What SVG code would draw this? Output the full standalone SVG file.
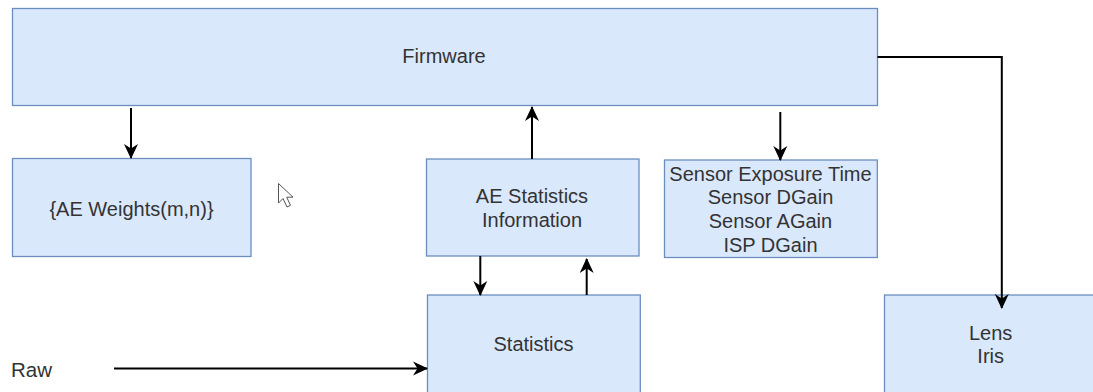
<svg xmlns="http://www.w3.org/2000/svg" width="1093" height="392" viewBox="0 0 1093 392">
<style>
.box{fill:#dae8fc;stroke:#6c8ebf;stroke-width:1.3}
.t{font-family:"Liberation Sans",Arial,sans-serif;font-size:20px;fill:#333;text-anchor:middle}
.c{fill:none;stroke:#000;stroke-width:2}
</style>
<defs>
<marker id="ah" markerUnits="userSpaceOnUse" markerWidth="15" markerHeight="15" viewBox="0 0 15 15" refX="14" refY="7.5" orient="auto">
<path d="M0,0.5 L15,7.5 L0,14.5 L4.5,7.5 Z" fill="#000"/>
</marker>
</defs>
<rect width="1093" height="392" fill="#fff"/>
<g id="firmware">
<rect class="box" x="12.5" y="8.5" width="865" height="97"/>
<text class="t" x="444" y="63.3">Firmware</text>
</g>
<g id="ae-weights">
<rect class="box" x="12.5" y="158.5" width="238.5" height="98"/>
<text class="t" x="131.5" y="216">{AE Weights(m,n)}</text>
</g>
<g id="ae-statistics">
<rect class="box" x="426.5" y="159" width="212.5" height="97"/>
<text class="t" x="532" y="203.3">AE Statistics</text>
<text class="t" x="532" y="226.7">Information</text>
</g>
<g id="sensor">
<rect class="box" x="664.5" y="160" width="212.8" height="97.5"/>
<text class="t" x="770.5" y="180.7">Sensor Exposure Time</text>
<text class="t" x="770.5" y="204.3">Sensor DGain</text>
<text class="t" x="770.5" y="228">Sensor AGain</text>
<text class="t" x="770.5" y="251.7">ISP DGain</text>
</g>
<g id="statistics">
<rect class="box" x="427.5" y="295" width="212.8" height="110"/>
<text class="t" x="533.5" y="350.7">Statistics</text>
</g>
<g id="lens">
<rect class="box" x="884.5" y="295" width="220" height="110"/>
<text class="t" x="990.7" y="340">Lens</text>
<text class="t" x="990.7" y="362.7">Iris</text>
</g>
<g id="raw">
<text x="11" y="377.3" style="font-family:'Liberation Sans',Arial,sans-serif;font-size:20.5px;fill:#333">Raw</text>
</g>
<g id="connectors">
<line class="c" x1="131" y1="108" x2="131" y2="158" marker-end="url(#ah)"/>
<line class="c" x1="532" y1="159" x2="532" y2="107" marker-end="url(#ah)"/>
<line class="c" x1="780.3" y1="112" x2="780.3" y2="160" marker-end="url(#ah)"/>
<path class="c" d="M877.5,57 H1001.8 V308" marker-end="url(#ah)"/>
<line class="c" x1="480.3" y1="256" x2="480.3" y2="295" marker-end="url(#ah)"/>
<line class="c" x1="586.7" y1="295" x2="586.7" y2="259" marker-end="url(#ah)"/>
<line class="c" x1="114" y1="368.5" x2="427" y2="368.5" marker-end="url(#ah)"/>
</g>
<path d="M278.5,183.5 L278.5,203 L283,198.5 L287,207 L290.5,205.3 L286.7,197.2 L293,197.2 Z" fill="#fff" stroke="#555" stroke-width="1"/>
</svg>
